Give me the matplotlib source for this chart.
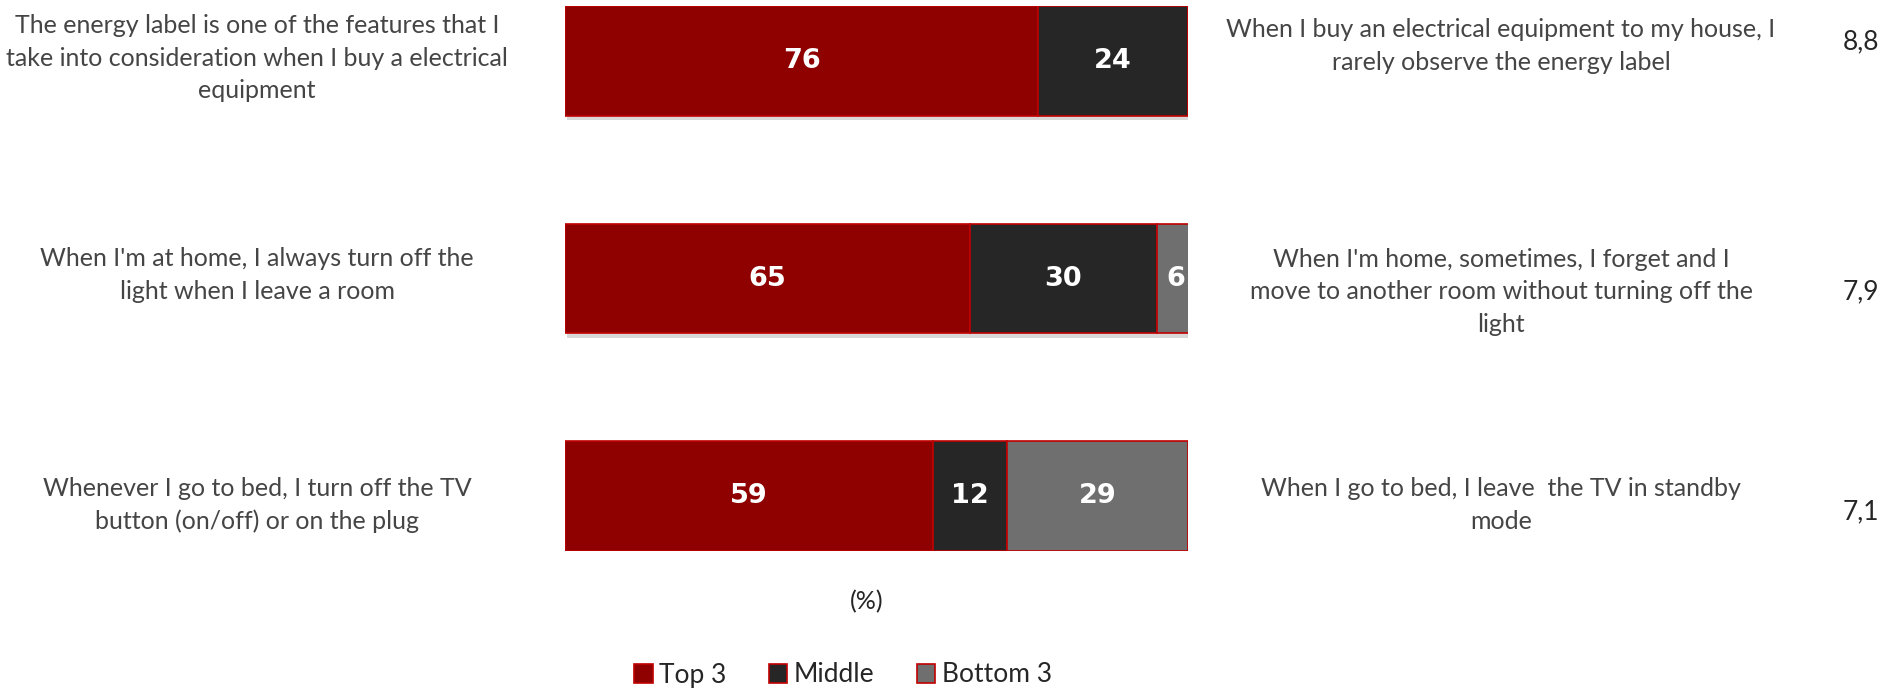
import matplotlib

matplotlib.use("Agg")
import matplotlib.pyplot as plt
import matplotlib.patheffects as pe
from matplotlib.patches import Patch

plt.rcParams["font.family"] = ["Lato", "DejaVu Sans"]

positive_statements = [
    "The energy label is one of the features that I\ntake into consideration when I buy a electrical\nequipment",
    "When I'm at home, I always turn off the\nlight when I leave a room",
    "Whenever I go to bed, I turn off the TV\nbutton (on/off) or on the plug",
]
negative_statements = [
    "When I buy an electrical equipment to my house, I\nrarely observe the energy label",
    "When I'm home, sometimes, I forget and I\nmove to another room without turning off the\nlight",
    "When I go to bed, I leave  the TV in standby\nmode",
]
top3 = [76, 65, 59]
middle = [24, 30, 12]
bottom3 = [0, 6, 29]
mean_scores = [8.8, 7.9, 7.1]

series_names = ["Top 3", "Middle", "Bottom 3"]
series_colors = ["#8f0000", "#262626", "#6f6f6f"]
EDGE = "#c00000"
TEXT = "#454545"

W, H = 1898, 690
fig = plt.figure(figsize=(W / 100, H / 100), dpi=100)
ax = fig.add_axes([565 / W, 1 - 551 / H, 623 / W, 545 / H])

shadow = [pe.SimplePatchShadow(offset=(1.5, -3), shadow_rgbFace="#808080", alpha=0.3), pe.Normal()]
rows = list(range(len(top3)))
left = [0] * len(rows)
for vals, color in zip((top3, middle, bottom3), series_colors):
    bars = ax.barh(rows, vals, left=left, height=0.505, color=color,
                   edgecolor=EDGE, linewidth=1.2)
    for b, v in zip(bars, vals):
        b.set_path_effects(shadow)
        if v > 0:
            ax.text(b.get_x() + b.get_width() / 2, b.get_y() + b.get_height() / 2, f"{v}",
                    ha="center", va="center", color="white", fontsize=19.5,
                    fontweight="bold", family="DejaVu Sans")
    left = [l + v for l, v in zip(left, vals)]

ax.set_xlim(0, 100)
ax.set_ylim(2.253, -0.253)
ax.axis("off")

# statements either side of the bars, plus the mean score column
left_y = [58, 275, 505]
right_y = [46, 292, 505]
score_y = [42, 292, 512]
for i in rows:
    fig.text(257 / W, 1 - left_y[i] / H, positive_statements[i], ha="center", va="center",
             fontsize=18, color=TEXT, linespacing=1.5)
    fig.text(1501 / W, 1 - right_y[i] / H, negative_statements[i], ha="center", va="center",
             fontsize=18, color=TEXT, linespacing=1.5)
    fig.text(1861 / W, 1 - score_y[i] / H, f"{mean_scores[i]:.1f}".replace(".", ","),
             ha="center", va="center", fontsize=19, color="#262626")

fig.text(867 / W, 1 - 602 / H, "(%)", ha="center", va="center", fontsize=18, color="#262626")

handles = [Patch(facecolor=c, edgecolor=EDGE, linewidth=1.2) for c in series_colors]
fig.legend(handles, series_names, loc="center", bbox_to_anchor=(843 / W, 1 - 675 / H),
           ncol=3, frameon=False, fontsize=19, handlelength=0.7, handleheight=0.7,
           handletextpad=0.25, columnspacing=1.6, labelcolor="#262626")

fig.savefig("out.png", dpi=100)
